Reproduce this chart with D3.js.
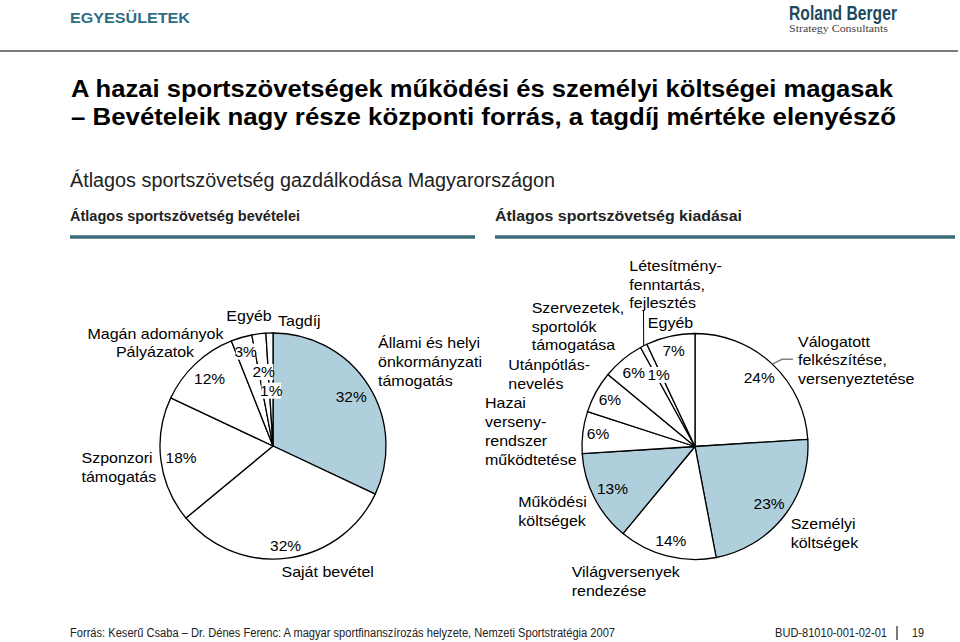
<!DOCTYPE html>
<html><head><meta charset="utf-8">
<script src="https://cdn.jsdelivr.net/npm/d3@7"></script>
<style>body{margin:0;background:#fff} svg{display:block} text{font-family:Arial,"Liberation Sans",sans-serif}</style>
</head><body><svg id="c" width="960" height="642"></svg>
<script>
// ---------- DATA ----------
const incomeCategories = ["Állami és helyi\nönkormányzati\ntámogatás","Saját bevétel","Szponzori\ntámogatás","Pályázatok","Magán adományok","Egyéb","Tagdíj"];
const incomeValues = [32,32,18,12,3,2,1];
const incomeHighlighted = [true,false,false,false,false,false,false];

const expenseCategories = ["Válogatott\nfelkészítése,\nversenyeztetése","Személyi\nköltségek","Világversenyek\nrendezése","Működési\nköltségek","Hazai\nverseny-\nrendszer\nműködtetése","Utánpótlás-\nnevelés","Szervezetek,\nsportolók\ntámogatása","Létesítmény-\nfenntartás,\nfejlesztés","Egyéb"];
const expenseValues = [24,23,14,13,6,6,6,1,7];
const expenseHighlighted = [false,true,false,true,false,false,false,false,false];

const titleLines = ["A hazai sportszövetségek működési és személyi költségei magasak","– Bevételeik nagy része központi forrás, a tagdíj mértéke elenyésző"];
const subtitle = "Átlagos sportszövetség gazdálkodása Magyarországon";
const panelTitles = ["Átlagos sportszövetség bevételei","Átlagos sportszövetség kiadásai"];
const sourceText = "Forrás: Keserű Csaba – Dr. Dénes Ferenc: A magyar sportfinanszírozás helyzete, Nemzeti Sportstratégia 2007";

// ---------- LAYOUT (positions/styles) ----------
const R = 113;
const BLUE = "#aecfdb";
const TEAL = "#3b6a7a";
const SY = 0.92;
const LH = 18.8;

const incomePctR = [0.82,0.89,0.82,0.82,0.87,0.66,0.49];
const incomePctBg = [false,false,false,false,true,true,true];
const incomeLabelPos = [
  {dx:105, dy:-98, a:"start"},
  {dx:8.5, dy:131.3, a:"start"},
  {dx:-191.5, dy:17.3, a:"start"},
  {dx:-118, dy:-89.3, a:"middle"},
  {dx:-117.5, dy:-106.7, a:"middle"},
  {dx:-24, dy:-125, a:"middle"},
  {dx:5, dy:-120, a:"start"}
];
const expensePctR = [0.83,0.83,0.86,0.82,0.865,0.86,0.85,0.71,0.865];
const expensePctBg = [false,false,false,false,false,false,true,true,false];
const expenseLabelPos = [
  {dx:103, dy:-100, a:"start"},
  {dx:95.7, dy:82.8, a:"start"},
  {dx:-123.3, dy:130.2, a:"start"},
  {dx:-176.7, dy:60.2, a:"start"},
  {dx:-210, dy:-38.2, a:"start"},
  {dx:-186.7, dy:-76.5, a:"start"},
  {dx:-163.3, dy:-133.8, a:"start"},
  {dx:-65.7, dy:-175.8, a:"start"},
  {dx:-24.5, dy:-118.8, a:"middle"}
];

const svg = d3.select("#c");

function stxt(g, x, y, s, o) {
  o = o || {};
  const t = g.append("text")
    .attr("transform", `translate(${x},${y}) scale(1,${o.sy || SY})`)
    .attr("text-anchor", o.anchor || "start")
    .attr("font-size", o.size || 16)
    .attr("font-weight", o.weight || "normal")
    .attr("fill", o.fill || "#000")
    .text(s);
  if (o.family) t.style("font-family", o.family);
  if (o.len) t.attr("textLength", o.len).attr("lengthAdjust", "spacingAndGlyphs");
  return t;
}

// ---------- HEADER ----------
stxt(svg, 70, 23, "EGYESÜLETEK", {size:14, weight:"bold", fill:"#2e6e85", len:120, sy:1});
stxt(svg, 789, 19.5, "Roland Berger", {size:17, weight:"bold", fill:"#1d4a5f", len:108, sy:1.2});
stxt(svg, 789, 31.5, "Strategy Consultants", {size:10, fill:"#444", len:99, sy:1, family:"'Liberation Serif','DejaVu Serif',serif"});
svg.append("line").attr("x1",0).attr("x2",958).attr("y1",51).attr("y2",51).attr("stroke","#7a7a7a").attr("stroke-width",2);

stxt(svg, 71, 97, titleLines[0], {size:24, weight:"bold", len:822, sy:1});
stxt(svg, 71, 125, titleLines[1], {size:24, weight:"bold", len:825, sy:1});
stxt(svg, 70, 187, subtitle, {size:20, fill:"#222", len:485, sy:1});
stxt(svg, 70, 221, panelTitles[0], {size:15.5, weight:"bold", fill:"#222", len:230, sy:1});
stxt(svg, 495, 221, panelTitles[1], {size:15.5, weight:"bold", fill:"#222", len:247, sy:1});
svg.append("line").attr("x1",70).attr("x2",475).attr("y1",237).attr("y2",237).attr("stroke",TEAL).attr("stroke-width",3.5);
svg.append("line").attr("x1",495).attr("x2",955).attr("y1",237).attr("y2",237).attr("stroke",TEAL).attr("stroke-width",3.5);

// ---------- FOOTER ----------
stxt(svg, 70, 637, sourceText, {size:12, fill:"#222", len:545, sy:1});
stxt(svg, 775, 637, "BUD-81010-001-02-01", {size:12, fill:"#222", len:112, sy:1});
svg.append("line").attr("x1",897).attr("x2",897).attr("y1",626).attr("y2",640).attr("stroke","#222").attr("stroke-width",1.2);
stxt(svg, 912, 637, "19", {size:12, fill:"#222", len:12, sy:1});

// ---------- PIES ----------
const pie = d3.pie().sort(null).value(d => d).startAngle(0).endAngle(2*Math.PI);
const arc = d3.arc().innerRadius(0).outerRadius(R);

function drawPie(cx, cy, values, cats, hi, pctR, pctBg, labelPos) {
  const g = svg.append("g").attr("transform", `translate(${cx},${cy})`);
  const arcs = pie(values);
  g.selectAll("path.slice").data(arcs).enter().append("path")
    .attr("class","slice")
    .attr("d", arc)
    .attr("fill", (d,i) => hi[i] ? BLUE : "#fff")
    .attr("stroke", "#000").attr("stroke-width", 1.3).attr("stroke-linejoin","round");
  arcs.forEach((d,i) => {
    const a = (d.startAngle + d.endAngle)/2;
    const r = pctR[i]*R;
    const x = r*Math.sin(a), y = -r*Math.cos(a);
    const s = values[i] + "%";
    if (pctBg[i]) {
      const w = s.length*8.3 + 3;
      g.append("rect").attr("x", x - w/2).attr("y", y - 8).attr("width", w).attr("height", 16).attr("fill","#fff");
    }
    stxt(g, x, y + 5.2, s, {size:15.5, anchor:"middle"});
  });
  cats.forEach((c,i) => {
    const p = labelPos[i];
    c.split("\n").forEach((line, k) => {
      stxt(g, p.dx, p.dy + k*LH, line, {size:16, anchor:p.a});
    });
  });
  return {g, arcs};
}

const L = drawPie(273, 446, incomeValues, incomeCategories, incomeHighlighted, incomePctR, incomePctBg, incomeLabelPos);
const Rp = drawPie(695, 446.5, expenseValues, expenseCategories, expenseHighlighted, expensePctR, expensePctBg, expenseLabelPos);

function arcPoint(d, r) { const a = (d.startAngle+d.endAngle)/2; return [r*Math.sin(a), -r*Math.cos(a)]; }
{
  const p = arcPoint(Rp.arcs[7], R);
  Rp.g.append("line").attr("x1", -51.5).attr("y1", -135.5).attr("x2", p[0]).attr("y2", p[1])
    .attr("stroke","#000").attr("stroke-width",1);
  const q = arcPoint(Rp.arcs[0], R);
  Rp.g.append("polyline").attr("points", [[q[0],q[1]],[87,-87.2],[98,-87.2]].map(d=>d.join(",")).join(" "))
    .attr("fill","none").attr("stroke","#808080").attr("stroke-width",1.5);
}
</script></body></html>
